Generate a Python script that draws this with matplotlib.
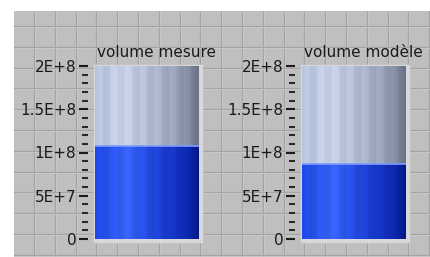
import numpy as np
import matplotlib
matplotlib.use("Agg")
import matplotlib.pyplot as plt
from matplotlib.ticker import FixedLocator, MultipleLocator, FixedFormatter
from matplotlib.patches import Rectangle

# ---- data ----
titles = ["volume mesure", "volume modèle"]
values = [1.075e8, 0.867e8]
y_max = 2e8
major_ticks = [0, 5e7, 1e8, 1.5e8, 2e8]
tick_labels = ["0", "5E+7", "1E+8", "1.5E+8", "2E+8"]
minor_step = 1e7

W, H = 431, 257
fig = plt.figure(figsize=(W / 100, H / 100), dpi=100)
fig.patch.set_facecolor("white")

def frac(x0, y0, x1, y1):
    # pixel box (top-left origin) -> figure fraction rect
    return [x0 / W, (H - y1) / H, (x1 - x0) / W, (y1 - y0) / H]

# ---- background panel with grid ----
bg = fig.add_axes(frac(14, 11, W, H))
bg.set_xlim(14, W)
bg.set_ylim(H, 11)
bg.set_facecolor("#bfbfbf")
bg.axis("off")
bg.add_patch(Rectangle((14, 11), W - 14, H - 11, color="#bfbfbf", zorder=0))
step = 20.8
for gx in np.arange(34, W, step):
    bg.plot([gx, gx], [11, H], color="#a4a4a4", lw=0.9, zorder=1)
    bg.plot([gx + 1, gx + 1], [11, H], color="#cbcbcb", lw=0.5, zorder=1)
for gy in np.arange(26, H, step):
    bg.plot([14, W], [gy, gy], color="#a4a4a4", lw=0.9, zorder=1)
    bg.plot([14, W], [gy + 1, gy + 1], color="#cbcbcb", lw=0.5, zorder=1)

tank_boxes = [(95, 66, 199, 239), (302, 66, 406, 239)]
for (x0, y0, x1, y1) in tank_boxes:
    bg.add_patch(Rectangle((x0 - 1, y0 - 1), x1 - x0 + 4, y1 - y0 + 4,
                           color="#d8d8dc", zorder=2))

# ---- gradient profiles (style) ----
N = 200
xs = np.linspace(0, 1, N)
def profile(stops):
    pos = [s[0] for s in stops]
    cols = np.array([s[1] for s in stops], dtype=float) / 255.0
    prof = np.stack([np.interp(xs, pos, cols[:, c]) for c in range(3)], axis=-1)
    stripe = 1 + 0.03 * np.sign(np.sin(xs * np.pi * 14))
    prof = np.clip(prof * stripe[:, None], 0, 1)
    return prof[None, :, :]

empty_prof = profile([(0.0, (180, 192, 218)), (0.25, (200, 210, 232)),
                      (0.55, (176, 186, 208)), (0.8, (150, 160, 182)),
                      (1.0, (108, 118, 138))])
fill_prof = profile([(0.0, (30, 70, 225)), (0.3, (55, 100, 250)),
                     (0.6, (30, 65, 215)), (0.85, (15, 45, 185)),
                     (1.0, (5, 25, 140))])

for (box, title, val) in zip(tank_boxes, titles, values):
    ax = fig.add_axes(frac(*box))
    ax.set_xlim(0, 1)
    ax.set_ylim(0, y_max)
    ax.imshow(fill_prof, extent=(0, 1, 0, val), aspect="auto",
              interpolation="bilinear", zorder=1)
    ax.imshow(empty_prof, extent=(0, 1, val, y_max), aspect="auto",
              interpolation="bilinear", zorder=1)
    ax.axhline(val, color="#7e9cff", lw=1.2, zorder=2)
    ax.set_xlim(0, 1)
    ax.set_ylim(0, y_max)
    for s in ax.spines.values():
        s.set_visible(False)
    ax.spines["left"].set_position(("outward", 5))
    ax.set_xticks([])
    ax.yaxis.set_major_locator(FixedLocator(major_ticks))
    ax.yaxis.set_major_formatter(FixedFormatter(tick_labels))
    ax.yaxis.set_minor_locator(MultipleLocator(minor_step))
    ax.tick_params(axis="y", which="major", length=6.5, width=1.5,
                   color="#1a1a1a", pad=2, labelsize=11, labelcolor="#1a1a1a")
    ax.tick_params(axis="y", which="minor", length=4, width=1.5,
                   color="#2a2a2a")
    ax.text(0.02, 1.035, title, transform=ax.transAxes, fontsize=11,
            color="#1a1a1a", ha="left", va="bottom")

fig.savefig("out.png", dpi=100, facecolor="white")
